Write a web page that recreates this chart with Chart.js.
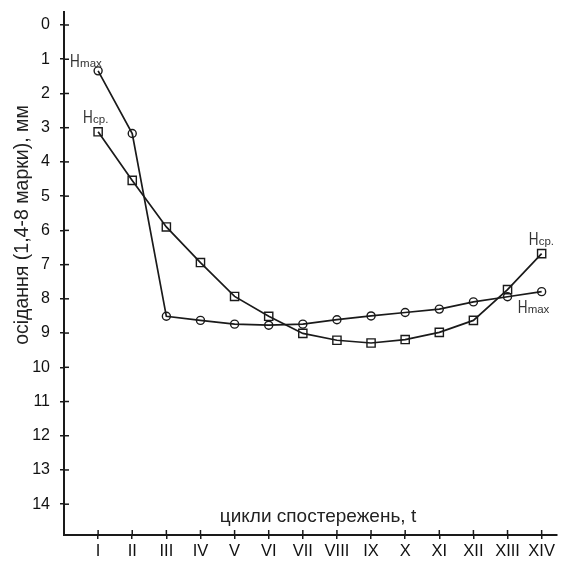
<!DOCTYPE html>
<html>
<head>
<meta charset="utf-8">
<script src="https://cdn.jsdelivr.net/npm/chart.js@4"></script>
<style>
html,body{margin:0;padding:0;background:#fff;}
#wrap{width:565px;height:563px;position:relative;}
</style>
</head>
<body>
<div id="wrap"><canvas id="c" width="565" height="563"></canvas></div>
<script>
// ---- data ----
const cycles = ["I","II","III","IV","V","VI","VII","VIII","IX","X","XI","XII","XIII","XIV"];
const cycleIndex = [1,2,3,4,5,6,7,8,9,10,11,12,13,14];
const hMax = [1.34,3.17,8.51,8.63,8.74,8.77,8.74,8.61,8.50,8.40,8.30,8.09,7.94,7.79];
const hSr  = [3.12,4.54,5.90,6.94,7.93,8.51,9.01,9.21,9.29,9.19,8.98,8.63,7.73,6.68];
const yTicks = [0,1,2,3,4,5,6,7,8,9,10,11,12,13,14];
const xTitle = "цикли спостережень, t";
const yTitle = "осідання (1,4-8 марки), мм";
const seriesLabels = {max:"max", sr:"ср."};

const FONT = "'Liberation Sans', Arial, sans-serif";
const INK = "#1a1a1a";

const toPts = arr => arr.map((v,i)=>({x:cycleIndex[i], y:v}));

const decor = {
  id:'decor',
  afterDraw(chart){
    const ctx = chart.ctx, xs = chart.scales.x, ys = chart.scales.y;
    ctx.save();
    // inner halves of tick marks
    ctx.strokeStyle = INK; ctx.lineWidth = 1.5;
    const x0 = xs.left, y0 = ys.bottom;
    cycleIndex.forEach(v=>{
      const px = xs.getPixelForValue(v);
      ctx.beginPath(); ctx.moveTo(px, y0); ctx.lineTo(px, y0-5); ctx.stroke();
    });
    yTicks.forEach(v=>{
      const py = ys.getPixelForValue(v);
      ctx.beginPath(); ctx.moveTo(x0, py); ctx.lineTo(x0+5, py); ctx.stroke();
    });
    // x title inside plot
    ctx.fillStyle = "#222";
    ctx.font = "19px " + FONT;
    ctx.textAlign = "center"; ctx.textBaseline = "middle";
    ctx.fillText(xTitle, 318, 517);
    // y title rotated
    ctx.save();
    ctx.translate(23, 225);
    ctx.rotate(-Math.PI/2);
    ctx.font = "19.5px " + FONT;
    ctx.fillText(yTitle, 0, 0);
    ctx.restore();
    // series labels
    const lab = (hx, base, sub) => {
      ctx.fillStyle = "#333";
      ctx.textAlign = "left"; ctx.textBaseline = "alphabetic";
      ctx.save();
      ctx.translate(hx, base);
      ctx.scale(0.75, 1);
      ctx.font = "18px " + FONT;
      ctx.fillText("H", 0, 0);
      ctx.restore();
      ctx.font = "11.5px " + FONT;
      ctx.fillText(sub, hx + 10, base);
    };
    const n = cycleIndex.length - 1;
    const pMax0 = [xs.getPixelForValue(cycleIndex[0]), ys.getPixelForValue(hMax[0])];
    const pSr0  = [xs.getPixelForValue(cycleIndex[0]), ys.getPixelForValue(hSr[0])];
    const pMaxN = [xs.getPixelForValue(cycleIndex[n]), ys.getPixelForValue(hMax[n])];
    const pSrN  = [xs.getPixelForValue(cycleIndex[n]), ys.getPixelForValue(hSr[n])];
    lab(pMax0[0]-28, pMax0[1]-4, seriesLabels.max);
    lab(pSr0[0]-15, pSr0[1]-9, seriesLabels.sr);
    lab(pSrN[0]-13, pSrN[1]-9, seriesLabels.sr);
    lab(pMaxN[0]-24, pMaxN[1]+21, seriesLabels.max);
    ctx.restore();
  }
};

new Chart(document.getElementById('c'), {
  type:'line',
  data:{
    datasets:[
      {label:'Hmax', data: toPts(hMax), borderColor:INK, borderWidth:1.7,
       pointStyle:'circle', pointRadius:4, pointBorderWidth:1.4,
       pointBackgroundColor:'rgba(0,0,0,0)', pointBorderColor:INK, tension:0},
      {label:'Hср.', data: toPts(hSr), borderColor:INK, borderWidth:1.7,
       pointStyle:'rect', pointRadius:5.8, pointBorderWidth:1.4,
       pointBackgroundColor:'rgba(0,0,0,0)', pointBorderColor:INK, tension:0}
    ]
  },
  options:{
    responsive:false, animation:false,
    layout:{padding:{top:12,right:8,left:0,bottom:0}},
    plugins:{legend:{display:false}, tooltip:{enabled:false}},
    scales:{
      x:{type:'linear', min:0, max:14.45,
         afterBuildTicks: s => { s.ticks = cycleIndex.map(v=>({value:v})); },
         afterFit: s => { s.height = 28; s.paddingLeft = 0; s.paddingRight = 0; },
         ticks:{autoSkip:false, maxRotation:0, padding:3, color:"#111",
                font:{family:FONT, size:16.5},
                callback:(v)=> cycles[cycleIndex.indexOf(v)] ?? ''},
         grid:{drawOnChartArea:false, drawTicks:true, tickLength:4, color:INK, lineWidth:1.5},
         border:{display:true, color:INK, width:2}
      },
      y:{type:'linear', reverse:true, min:-0.38, max:14.9,
         afterBuildTicks: s => { s.ticks = yTicks.map(v=>({value:v})); },
         afterFit: s => { s.width = 64; s.paddingTop = 0; s.paddingBottom = 0; },
         ticks:{padding:10, color:"#111", font:{family:FONT, size:16}},
         grid:{drawOnChartArea:false, drawTicks:true, tickLength:4, color:INK, lineWidth:1.5},
         border:{display:true, color:INK, width:2}
      }
    }
  },
  plugins:[decor]
});
</script>
</body>
</html>
